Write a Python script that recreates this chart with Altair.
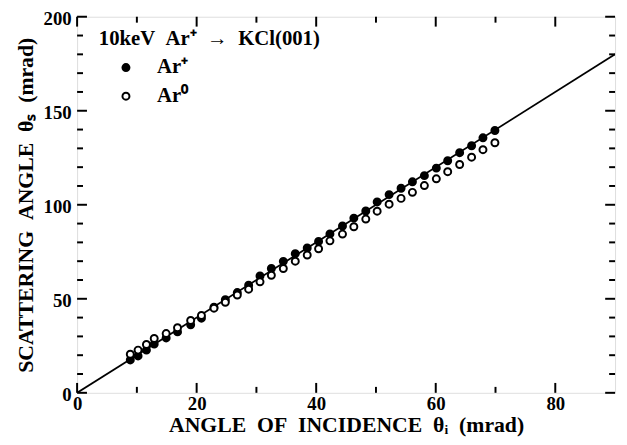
import altair as alt
import pandas as pd

# ---- data ----
ar_plus_x = [8.9, 10.2, 11.6, 12.9, 14.9, 16.8, 19.0, 20.8, 22.9, 24.8, 26.8, 28.7, 30.6,
             32.5, 34.5, 36.5, 38.5, 40.4, 42.3, 44.4, 46.3, 48.3, 50.2, 52.2, 54.2, 56.1,
             58.1, 60.1, 62.0, 64.0, 66.0, 67.9, 69.9]
ar_plus_y = [17.5, 19.6, 22.7, 25.9, 29.2, 32.4, 36.2, 39.7, 45.5, 49.5, 53.3, 57.2, 62.1,
             66.1, 69.9, 74.0, 77.0, 80.5, 84.5, 88.7, 92.9, 96.7, 101.5, 105.4, 108.8, 112.2,
             115.5, 119.5, 123.4, 127.7, 131.4, 135.6, 139.5]
ar0_x = ar_plus_x
ar0_y = [20.5, 22.7, 25.7, 28.9, 31.5, 34.6, 38.5, 41.1, 45.0, 48.1, 52.0, 55.1, 59.0,
         62.5, 66.1, 70.0, 73.3, 76.6, 80.8, 84.4, 88.3, 92.4, 96.6, 100.3, 103.4, 106.6,
         110.2, 113.8, 117.6, 121.4, 125.3, 129.3, 133.0]
fit_x = [0, 90]
fit_y = [0, 180]

series_names = ["Ar\u207a", "Ar\u2070"]
legend_title = ["10keV\u2002Ar\u207a\u2002\u2192\u2002KCl(001)"]

x_major = [0, 20, 40, 60, 80]
x_minor = [10, 30, 50, 70]
y_major = [0, 50, 100, 150, 200]
y_minor = [v for v in range(10, 200, 10) if v % 50 != 0]

SP = "\u2002"
x_title = f"ANGLE{SP}OF{SP}INCIDENCE{SP}\u03b8\u1d62{SP}(mrad)"
y_title = f"SCATTERING{SP}ANGLE{SP}\u03b8\u209b{SP}(mrad)"

W, H = 545, 381
FONT = "Liberation Serif"

pts = pd.DataFrame({
    "x": ar_plus_x + ar0_x,
    "y": ar_plus_y + ar0_y,
    "series": [series_names[0]] * len(ar_plus_x) + [series_names[1]] * len(ar0_x),
})
fit = pd.DataFrame({"x": fit_x, "y": fit_y})

xscale = alt.Scale(domain=[0, 90], nice=False, zero=False)
yscale = alt.Scale(domain=[0, 200], nice=False, zero=False)

xaxis = alt.Axis(values=x_major, ticks=False, domain=False, grid=False, labelFont=FONT,
                 labelFontWeight="bold", labelFontSize=19, labelColor="black", labelPadding=2,
                 title=x_title, titleFont=FONT, titleFontWeight="bold", titleFontSize=22,
                 titleColor="black", titlePadding=1, labelFlush=False)
yaxis = alt.Axis(values=y_major, ticks=False, domain=False, grid=False, labelFont=FONT,
                 labelFontWeight="bold", labelFontSize=19, labelColor="black", labelPadding=6,
                 labelOffset=2,
                 title=y_title, titleFont=FONT, titleFontWeight="bold", titleFontSize=22,
                 titleColor="black", titlePadding=6, labelFlush=False)

line = alt.Chart(fit).mark_line(color="black", strokeWidth=1.8, clip=True).encode(
    x=alt.X("x:Q", scale=xscale, axis=xaxis),
    y=alt.Y("y:Q", scale=yscale, axis=yaxis),
)

points = alt.Chart(pts).mark_point(size=50, strokeWidth=2, opacity=1, stroke="black", shape="circle").encode(
    x=alt.X("x:Q", scale=xscale),
    y=alt.Y("y:Q", scale=yscale),
    fill=alt.Fill("series:N", scale=alt.Scale(domain=series_names, range=["black", "white"]),
                  legend=alt.Legend(title=None, orient="none", legendX=35, legendY=37,
                                    labelFont=FONT, labelFontWeight="bold", labelFontSize=21,
                                    labelColor="black", labelOffset=21, symbolSize=50,
                                    symbolStrokeWidth=2, symbolStrokeColor="black",
                                    symbolType="circle", rowPadding=7, padding=4)),
)

title_text = alt.Chart(pd.DataFrame({"t": legend_title})).mark_text(
    font=FONT, fontWeight="bold", fontSize=21, color="black", align="left", baseline="middle"
).encode(text="t:N", x=alt.value(22), y=alt.value(23))

def xticks(vals, length):
    df = pd.DataFrame({"x": vals})
    b = alt.Chart(df).mark_rule(color="black", strokeWidth=2).encode(
        x=alt.X("x:Q", scale=xscale), y=alt.value(H), y2=alt.value(H - length))
    t = alt.Chart(df).mark_rule(color="black", strokeWidth=2).encode(
        x=alt.X("x:Q", scale=xscale), y=alt.value(0), y2=alt.value(length))
    return [b, t]

def yticks(vals, length):
    df = pd.DataFrame({"y": vals})
    l = alt.Chart(df).mark_rule(color="black", strokeWidth=2).encode(
        y=alt.Y("y:Q", scale=yscale), x=alt.value(0), x2=alt.value(length))
    r = alt.Chart(df).mark_rule(color="black", strokeWidth=2).encode(
        y=alt.Y("y:Q", scale=yscale), x=alt.value(W), x2=alt.value(W - length))
    return [l, r]

layers = ([line] + xticks(x_major, 10) + xticks(x_minor, 6) + yticks(y_major, 10)
          + yticks(y_minor, 6) + [points, title_text])

chart = alt.layer(*layers).properties(
    width=W, height=H,
    autosize=alt.AutoSizeParams(type="none"),
    padding={"left": 70, "top": 6, "right": 4, "bottom": 48},
).configure_view(stroke="black", strokeWidth=2.5).configure(background="white")

chart.save("out.html", embed_options={"renderer": "svg", "actions": False})
